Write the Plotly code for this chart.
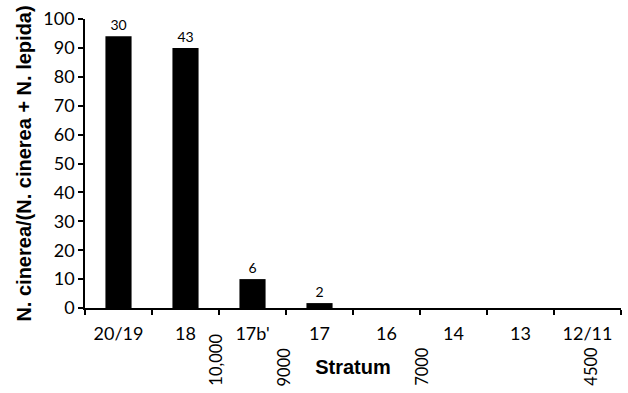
import plotly.graph_objects as go

strata = ["20/19", "18", "17b'", "17", "16", "14", "13", "12/11"]
ratio = [94, 90, 10, 1.7, 0, 0, 0, 0]
counts = ["30", "43", "6", "2", "", "", "", ""]
ages = ["10,000", "9000", "7000", "4500"]
age_pos = [1.45, 2.47, 4.52, 7.04]

fig = go.Figure()
fig.add_trace(go.Bar(
    x=strata, y=ratio, text=counts, textposition="outside",
    textfont=dict(family="Lato", size=14, color="black"),
    marker=dict(color="black", line=dict(width=0)),
    cliponaxis=False,
))

for lab, p in zip(ages, age_pos):
    fig.add_annotation(
        x=p, xref="x", y=0, yref="paper", yshift=-80,
        text=lab, textangle=-90, showarrow=False,
        xanchor="center", yanchor="bottom",
        font=dict(family="Lato", size=16.5, color="black"),
    )

fig.update_layout(
    width=628, height=393,
    margin=dict(l=85, r=7, t=16, b=85),
    paper_bgcolor="white", plot_bgcolor="white",
    bargap=0.61, showlegend=False,
    font=dict(family="Lato", size=18, color="black"),
)
fig.update_xaxes(
    type="category", tickson="boundaries",
    showline=True, linecolor="black", linewidth=1.5,
    ticks="outside", ticklen=5, tickcolor="black", tickwidth=1.5,
    ticklabelstandoff=9,
    tickfont=dict(family="Lato", size=18, color="black"),
    title=dict(text="Stratum", font=dict(family="Liberation Sans", size=20, color="black", weight="bold"), standoff=17),
    showgrid=False,
)
fig.update_yaxes(
    range=[0, 100], dtick=10,
    showline=True, linecolor="black", linewidth=1.5,
    ticks="outside", ticklen=5, tickcolor="black", tickwidth=1.5,
    tickfont=dict(family="Lato", size=18, color="black"),
    title=dict(text="N. cinerea/(N. cinerea + N. lepida)", font=dict(family="Liberation Sans", size=20, color="black", weight="bold"), standoff=6),
    showgrid=False, zeroline=False,
)

fig.write_html("out.html")
